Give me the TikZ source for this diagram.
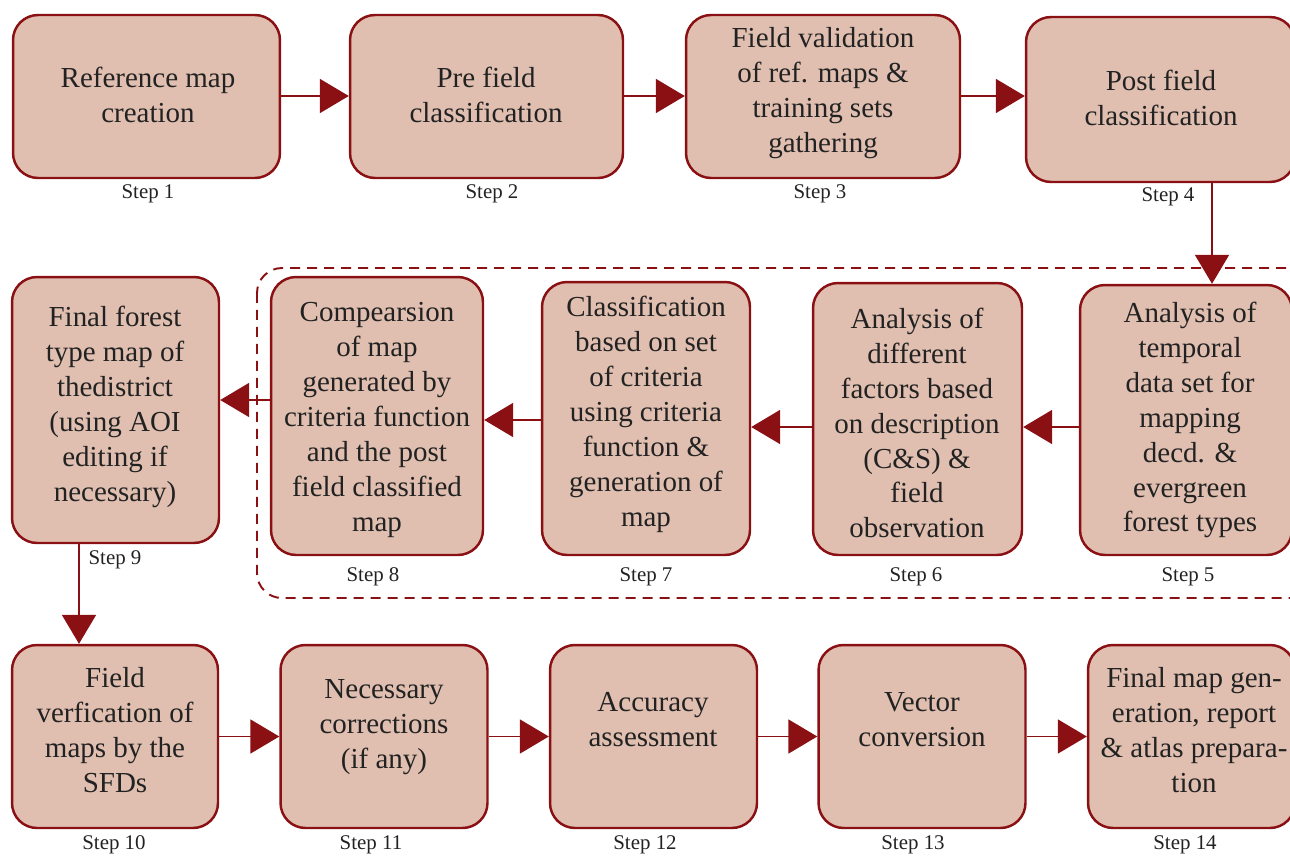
\documentclass[tikz,border=0pt]{standalone}
\usepackage{fontspec}
\setmainfont{Liberation Serif}
\usepackage{tikz}
\usetikzlibrary{arrows.meta,positioning}

\definecolor{boxred}{HTML}{8A1014}
\definecolor{boxfill}{HTML}{E0BFB0}
\definecolor{textgray}{HTML}{222222}

\begin{document}
\begin{tikzpicture}[
    x=0.02cm, y=-0.02cm,
    stepbox/.style={rectangle, draw=boxred, line width=1.4pt, rounded corners=5mm, fill=boxfill, inner sep=0pt},
    txt/.style={align=center, inner sep=0pt, text=textgray, font=\fontsize{16.5}{19.9}\selectfont},
    steplbl/.style={inner sep=0pt, text=textgray, font=\fontsize{11.9}{14}\selectfont},
    dashbox/.style={draw=boxred, line width=1.1pt, dash pattern=on 2mm off 1.4mm, rounded corners=5mm},
    arr/.style={-{Triangle[length=5.8mm,width=6.8mm]}, line width=1.1pt, draw=boxred}
]
\useasboundingbox (0,0) rectangle (1290,855);

% group of criteria based steps
\draw[dashbox] (257,268) rectangle (1320,598);

% first row
\node[stepbox, minimum width=5.34cm, minimum height=3.26cm] (s1) at (146.5,96.5) {};
\node[stepbox, minimum width=5.46cm, minimum height=3.26cm] (s2) at (486.5,96.5) {};
\node[stepbox, minimum width=5.48cm, minimum height=3.26cm] (s3) at (823,96.5) {};
\node[stepbox, minimum width=5.38cm, minimum height=3.30cm] (s4) at (1160.5,99.5) {};

\node[txt] (t1) at (148,95) {Reference map\\creation};
\node[txt] (t2) at (486,95) {Pre field\\classification};
\node[txt] (t3) at (823,93) {Field validation\\of ref. maps \&\\training sets\\gathering};
\node[txt] (t4) at (1161,98) {Post field\\classification};

% second row
\node[stepbox, minimum width=4.14cm, minimum height=5.32cm] (s9) at (115.5,410) {};
\node[stepbox, minimum width=4.24cm, minimum height=5.56cm] (s8) at (377,416) {};
\node[stepbox, minimum width=4.16cm, minimum height=5.46cm] (s7) at (646,418.5) {};
\node[stepbox, minimum width=4.18cm, minimum height=5.44cm] (s6) at (917.5,419) {};
\node[stepbox, minimum width=4.24cm, minimum height=5.40cm] (s5) at (1186,420) {};

\node[txt] (t9) at (115,407) {Final forest\\type map of\\thedistrict\\(using AOI\\editing if\\necessary)};
\node[txt] (t8) at (377,420) {Compearsion\\of map\\generated by\\criteria function\\and the post\\field classified\\map};
\node[txt] (t7) at (646,414) {Classification\\based on set\\of criteria\\using criteria\\function \&\\generation of\\map};
\node[txt] (t6) at (917,423) {Analysis of\\different\\factors based\\on description\\(C\&S) \&\\field\\observation};
\node[txt] (t5) at (1190,420) {Analysis of\\temporal\\data set for\\mapping\\decd. \&\\evergreen\\forest types};

% third row
\node[stepbox, minimum width=4.12cm, minimum height=3.66cm] (s10) at (115,736.5) {};
\node[stepbox, minimum width=4.14cm, minimum height=3.66cm] (s11) at (384,736.5) {};
\node[stepbox, minimum width=4.14cm, minimum height=3.66cm] (s12) at (653.5,736.5) {};
\node[stepbox, minimum width=4.14cm, minimum height=3.66cm] (s13) at (922,736.5) {};
\node[stepbox, minimum width=4.14cm, minimum height=3.66cm] (s14) at (1191.5,736.5) {};

\node[txt] (t10) at (115,730) {Field\\verfication of\\maps by the\\SFDs};
\node[txt] (t11) at (384,727) {Necessary\\corrections\\(if any)};
\node[txt] (t12) at (653,720) {Accuracy\\assessment};
\node[txt] (t13) at (922,720) {Vector\\conversion};
\node[txt] (t14) at (1194,730) {Final map gen-\\eration, report\\\& atlas prepara-\\tion};

% step numbers
\node[steplbl] (l1) at (148,194) {Step 1};
\node[steplbl] (l2) at (492,194) {Step 2};
\node[steplbl] (l3) at (820,194) {Step 3};
\node[steplbl] (l4) at (1168,197) {Step 4};
\node[steplbl] (l5) at (1188,577) {Step 5};
\node[steplbl] (l6) at (916,577) {Step 6};
\node[steplbl] (l7) at (646,577) {Step 7};
\node[steplbl] (l8) at (373,577) {Step 8};
\node[steplbl] (l9) at (115,560) {Step 9};
\node[steplbl] (l10) at (114,845) {Step 10};
\node[steplbl] (l11) at (371,845) {Step 11};
\node[steplbl] (l12) at (645,845) {Step 12};
\node[steplbl] (l13) at (913,845) {Step 13};
\node[steplbl] (l14) at (1185,845) {Step 14};

% connectors
\draw[arr] (s1.east |- 0,96) -- (s2.west |- 0,96);
\draw[arr] (s2.east |- 0,96) -- (s3.west |- 0,96);
\draw[arr] (s3.east |- 0,96) -- (s4.west |- 0,96);
\draw[arr] (s4.south -| 1212,0) -- (s5.north -| 1212,0);
\draw[arr] (s5.west |- 0,427) -- (s6.east |- 0,427);
\draw[arr] (s6.west |- 0,427) -- (s7.east |- 0,427);
\draw[arr] (s7.west |- 0,420) -- (s8.east |- 0,420);
\draw[arr] (s8.west |- 0,400) -- (s9.east |- 0,400);
\draw[arr] (s9.south -| 79,0) -- (s10.north -| 79,0);
\draw[arr] (s10) -- (s11);
\draw[arr] (s11) -- (s12);
\draw[arr] (s12) -- (s13);
\draw[arr] (s13) -- (s14);
\end{tikzpicture}
\end{document}
